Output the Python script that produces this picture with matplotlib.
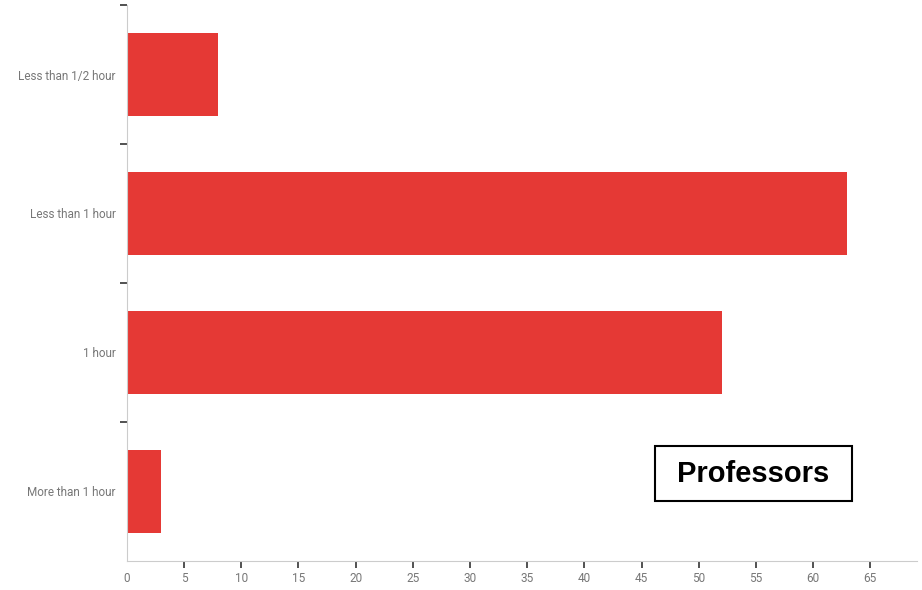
import matplotlib
matplotlib.use("Agg")
import matplotlib.pyplot as plt
from matplotlib.patches import Rectangle

categories = ["Less than 1/2 hour", "Less than 1 hour", "1 hour", "More than 1 hour"]
counts = [8, 63, 52, 3]
xticks = list(range(0, 70, 5))

bar_color = "#e53935"

fig = plt.figure(figsize=(9.22, 5.9), dpi=100)
ax = fig.add_axes([0.1377, 0.0492, 0.857, 0.9423])

pos = list(range(len(categories)))
ax.barh(pos, counts, height=0.6, color=bar_color)
ax.set_ylim(len(categories) - 0.5, -0.5)
ax.set_xlim(0, 69.1)

# category labels sit between the boundary ticks
ax.set_yticks([p - 0.5 for p in pos] + [len(categories) - 0.5])
ax.set_yticklabels([])
ax.set_yticks(pos, minor=True)
ax.set_yticklabels(categories, minor=True)
ax.tick_params(axis="y", which="major", length=5, width=1.2, color="#333333")
ax.tick_params(axis="y", which="minor", length=0, pad=8, labelsize=8.5, labelcolor="#777777")

ax.set_xticks(xticks)
ax.tick_params(axis="x", length=5, width=1.2, color="#333333", labelsize=8.5,
               labelcolor="#777777", pad=3)

# no tick marks where the two axes meet
ax.xaxis.get_major_ticks()[0].tick1line.set_visible(False)
ax.yaxis.get_major_ticks()[-1].tick1line.set_visible(False)

for lbl in ax.get_xticklabels() + ax.get_yticklabels(minor=True):
    lbl.set_family(["Liberation Sans Narrow", "Roboto", "DejaVu Sans"])

for side in ["top", "right"]:
    ax.spines[side].set_visible(False)
for side in ["left", "bottom"]:
    ax.spines[side].set_color("#cccccc")

ax.add_patch(Rectangle((0.668, 0.108), 0.25, 0.099, transform=ax.transAxes,
                       facecolor="white", edgecolor="black", linewidth=1.5, zorder=3))
ax.text(0.793, 0.157, "Professors", transform=ax.transAxes, ha="center", va="center",
        fontsize=21, fontweight="bold", family=["Liberation Sans", "DejaVu Sans"], zorder=4)

fig.savefig("out.png", dpi=100)
